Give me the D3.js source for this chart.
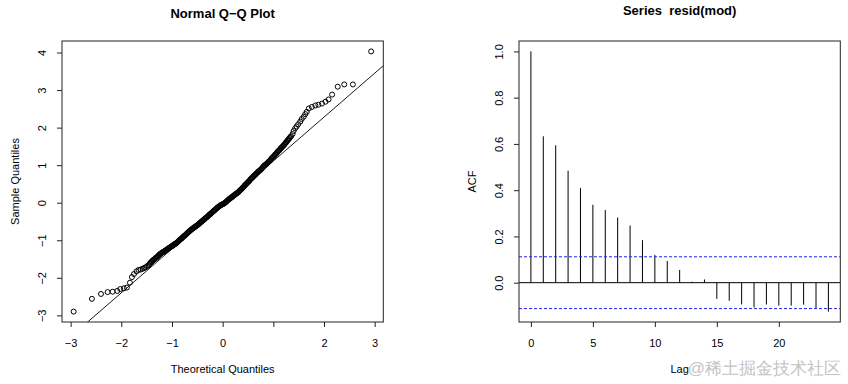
<!DOCTYPE html>
<html>
<head>
<meta charset="utf-8" />
<title>Residual diagnostics</title>
<script src="https://d3js.org/d3.v7.min.js" charset="utf-8"></script>
<style>
  body { margin: 0; background: #fff; }
  text { font-family: "Liberation Sans", Arial, sans-serif; }
</style>
</head>
<body>
<script>
// ---- Q-Q plot data ----
// theoretical quantiles and matching sample quantiles
const theoQ = [
  -2.94, -2.58, -2.40, -2.27, -2.17, -2.08, -2.02, -1.95, -1.89, -1.83, -1.79, -1.75, -1.70, -1.66, -1.62, -1.58, -1.55, -1.52, -1.49, -1.46,
  -1.44, -1.41, -1.38, -1.35, -1.32, -1.29, -1.26, -1.23, -1.20, -1.17, -1.14, -1.11, -1.08, -1.05, -1.02, -0.99, -0.96, -0.93, -0.90, -0.87,
  -0.84, -0.81, -0.78, -0.75, -0.72, -0.69, -0.66, -0.63, -0.60, -0.57, -0.54, -0.51, -0.48, -0.45, -0.42, -0.39, -0.36, -0.33, -0.30, -0.27,
  -0.24, -0.21, -0.18, -0.15, -0.12, -0.09, -0.06, -0.03, 0.00, 0.03, 0.06, 0.09, 0.12, 0.15, 0.18, 0.21, 0.24, 0.27, 0.30, 0.33,
  0.36, 0.39, 0.42, 0.45, 0.48, 0.51, 0.54, 0.57, 0.60, 0.63, 0.66, 0.69, 0.72, 0.75, 0.78, 0.81, 0.84, 0.87, 0.90, 0.93,
  0.96, 0.99, 1.02, 1.05, 1.08, 1.11, 1.14, 1.17, 1.20, 1.23, 1.26, 1.29, 1.32, 1.35, 1.38, 1.40, 1.43, 1.46, 1.49, 1.53,
  1.56, 1.60, 1.63, 1.66, 1.70, 1.76, 1.83, 1.89, 1.96, 2.03, 2.09, 2.16, 2.27, 2.40, 2.57, 2.93,
  // the dense middle of the band
  -1.425, -1.395, -1.365, -1.335, -1.305, -1.275, -1.245, -1.215, -1.185, -1.155, -1.125, -1.095, -1.065, -1.035, -1.005,
  -0.975, -0.945, -0.915, -0.885, -0.855, -0.825, -0.795, -0.765, -0.735, -0.705, -0.675, -0.645, -0.615, -0.585, -0.555,
  -0.525, -0.495, -0.465, -0.435, -0.405, -0.375, -0.345, -0.315, -0.285, -0.255, -0.225, -0.195, -0.165, -0.135, -0.105,
  -0.075, -0.045, -0.015, 0.015, 0.045, 0.075, 0.105, 0.135, 0.165, 0.195, 0.225, 0.255, 0.285, 0.315, 0.345,
  0.375, 0.405, 0.435, 0.465, 0.495, 0.525, 0.555, 0.585, 0.615, 0.645, 0.675, 0.705, 0.735, 0.765, 0.795,
  0.825, 0.855, 0.885, 0.915, 0.945, 0.975, 1.005, 1.035, 1.065, 1.095, 1.125, 1.155, 1.185, 1.215, 1.245,
  1.275, 1.305, 1.335
];
const sampleQ = [
  -2.90, -2.56, -2.43, -2.38, -2.37, -2.35, -2.30, -2.28, -2.26, -2.13, -1.98, -1.90, -1.83, -1.79, -1.78, -1.76, -1.74, -1.72, -1.69, -1.66,
  -1.63, -1.58, -1.54, -1.51, -1.47, -1.44, -1.40, -1.36, -1.33, -1.31, -1.28, -1.26, -1.23, -1.20, -1.17, -1.15, -1.12, -1.09, -1.06, -1.02,
  -0.98, -0.95, -0.91, -0.88, -0.84, -0.80, -0.76, -0.73, -0.70, -0.67, -0.64, -0.61, -0.58, -0.54, -0.51, -0.47, -0.44, -0.40, -0.37, -0.33,
  -0.30, -0.26, -0.22, -0.19, -0.15, -0.12, -0.09, -0.06, -0.04, -0.02, 0.01, 0.05, 0.09, 0.12, 0.15, 0.18, 0.21, 0.24, 0.27, 0.31,
  0.35, 0.39, 0.43, 0.48, 0.52, 0.56, 0.61, 0.65, 0.69, 0.73, 0.77, 0.81, 0.85, 0.88, 0.92, 0.97, 1.01, 1.04, 1.08, 1.12,
  1.17, 1.21, 1.25, 1.30, 1.35, 1.39, 1.44, 1.48, 1.52, 1.57, 1.62, 1.67, 1.72, 1.77, 1.83, 1.91, 1.98, 2.03, 2.09, 2.16,
  2.23, 2.29, 2.36, 2.42, 2.51, 2.55, 2.59, 2.61, 2.64, 2.69, 2.75, 2.88, 3.09, 3.15, 3.15, 4.03,
  -1.60, -1.56, -1.52, -1.49, -1.46, -1.42, -1.38, -1.35, -1.32, -1.30, -1.27, -1.24, -1.21, -1.19, -1.16,
  -1.13, -1.10, -1.08, -1.04, -1.00, -0.97, -0.93, -0.89, -0.86, -0.82, -0.78, -0.75, -0.71, -0.68, -0.65,
  -0.62, -0.59, -0.56, -0.52, -0.49, -0.46, -0.42, -0.39, -0.35, -0.31, -0.28, -0.24, -0.21, -0.17, -0.13,
  -0.10, -0.07, -0.05, -0.03, 0.00, 0.03, 0.07, 0.10, 0.13, 0.16, 0.20, 0.23, 0.26, 0.29, 0.33,
  0.37, 0.41, 0.46, 0.50, 0.54, 0.58, 0.63, 0.67, 0.71, 0.75, 0.79, 0.83, 0.86, 0.90, 0.95,
  0.99, 1.02, 1.06, 1.10, 1.14, 1.19, 1.23, 1.28, 1.32, 1.37, 1.41, 1.46, 1.50, 1.55, 1.60,
  1.65, 1.70, 1.75
];
// qqline
const qqIntercept = -0.06;
const qqSlope = 1.17;
const qqXTicks = [-3, -2, -1, 0, 1, 2, 3];
const qqXLabels = ["\u22123", "\u22122", "\u22121", "0", "", "2", "3"];
const qqYTicks = [-3, -2, -1, 0, 1, 2, 3, 4];

// ---- ACF data ----
const lags = [0, 1, 2, 3, 4, 5, 6, 7, 8, 9, 10, 11, 12, 13, 14, 15, 16, 17, 18, 19, 20, 21, 22, 23, 24];
const acfValues = [1.0, 0.633, 0.594, 0.484, 0.409, 0.337, 0.314, 0.282, 0.247, 0.184, 0.120, 0.094, 0.055, 0.004, 0.014,
  -0.070, -0.078, -0.094, -0.107, -0.094, -0.099, -0.099, -0.095, -0.111, -0.125];
const ciBound = 0.112;
const acfXTicks = [0, 5, 10, 15, 20];
const acfYTicks = [0, 0.2, 0.4, 0.6, 0.8, 1.0];

const width = 848, height = 384;
const boxTop = 41, boxBottom = 322;

const svg = d3.select("body").append("svg")
  .attr("width", width)
  .attr("height", height);

const fmtMinus = v => (v < 0 ? "\u2212" + Math.abs(v) : String(v));

function drawFrame(x0, x1) {
  svg.append("rect")
    .attr("x", x0).attr("y", boxTop)
    .attr("width", x1 - x0).attr("height", boxBottom - boxTop)
    .attr("fill", "none").attr("stroke", "#222").attr("stroke-width", 1);
}

function styleAxis(g) {
  g.select(".domain").remove();
  g.selectAll(".tick line").attr("stroke", "#222");
  g.selectAll(".tick text").attr("fill", "#000").attr("font-size", 11);
}

function bottomAxis(scale, ticks, labels) {
  return g => {
    g.call(d3.axisBottom(scale).tickValues(ticks).tickSize(5)
      .tickFormat((d, i) => labels[i]));
    styleAxis(g);
    g.selectAll(".tick text").attr("y", 17).attr("dy", "0.71em");
  };
}

function leftAxis(scale, ticks, fmt) {
  return g => {
    g.call(d3.axisLeft(scale).tickValues(ticks).tickSize(5).tickFormat(fmt));
    styleAxis(g);
    g.selectAll(".tick text")
      .attr("transform", "rotate(-90)")
      .attr("x", 0).attr("y", -16).attr("dy", 0)
      .attr("text-anchor", "middle");
  };
}

// ================= Normal Q-Q plot =================
const qx0 = 62, qx1 = 383.3;
const qqX = d3.scaleLinear().domain([-3.17, 3.17]).range([qx0, qx1]);
const qqY = d3.scaleLinear().domain([-3.177, 4.307]).range([boxBottom, boxTop]);

svg.append("clipPath").attr("id", "qqclip")
  .append("rect").attr("x", qx0).attr("y", boxTop)
  .attr("width", qx1 - qx0).attr("height", boxBottom - boxTop);

svg.append("g").selectAll("circle")
  .data(theoQ.map((t, i) => [t, sampleQ[i]]))
  .join("circle")
  .attr("cx", d => qqX(d[0]))
  .attr("cy", d => qqY(d[1]))
  .attr("r", 2.5)
  .attr("fill", "none")
  .attr("stroke", "#000")
  .attr("stroke-width", 1);

const lineX = qqX.domain();
svg.append("path")
  .attr("clip-path", "url(#qqclip)")
  .attr("d", d3.line().x(d => qqX(d)).y(d => qqY(qqIntercept + qqSlope * d))(lineX))
  .attr("stroke", "#000").attr("stroke-width", 0.9).attr("fill", "none");

drawFrame(qx0, qx1);

svg.append("g").attr("transform", `translate(0,${boxBottom})`)
  .call(bottomAxis(qqX, qqXTicks, qqXLabels));
svg.append("g").attr("transform", `translate(${qx0},0)`)
  .call(leftAxis(qqY, qqYTicks, fmtMinus));

svg.append("text")
  .attr("x", (qx0 + qx1) / 2).attr("y", 18)
  .attr("text-anchor", "middle")
  .attr("font-size", 13).attr("font-weight", "bold")
  .text("Normal Q\u2212Q Plot");

svg.append("text")
  .attr("x", (qx0 + qx1) / 2).attr("y", 373)
  .attr("text-anchor", "middle").attr("font-size", 11)
  .text("Theoretical Quantiles");

svg.append("text")
  .attr("transform", `translate(19,${(boxTop + boxBottom) / 2}) rotate(-90)`)
  .attr("text-anchor", "middle").attr("font-size", 11)
  .text("Sample Quantiles");

// ================= ACF plot =================
const ax0 = 519, ax1 = 840.3;
const acfX = d3.scaleLinear().domain([-0.96, 24.96]).range([ax0, ax1]);
const acfY = d3.scaleLinear().domain([-0.17, 1.045]).range([boxBottom, boxTop]);

svg.append("g").selectAll("line")
  .data(lags)
  .join("line")
  .attr("x1", d => acfX(d)).attr("x2", d => acfX(d))
  .attr("y1", acfY(0))
  .attr("y2", (d, i) => acfY(acfValues[i]))
  .attr("stroke", "#000").attr("stroke-width", 1);

svg.append("line")
  .attr("x1", ax0).attr("x2", ax1)
  .attr("y1", acfY(0)).attr("y2", acfY(0))
  .attr("stroke", "#000").attr("stroke-width", 1);

[ciBound, -ciBound].forEach(c => {
  svg.append("line")
    .attr("x1", ax0).attr("x2", ax1)
    .attr("y1", acfY(c)).attr("y2", acfY(c))
    .attr("stroke", "#2222ee").attr("stroke-width", 1)
    .attr("stroke-dasharray", "3,2");
});

drawFrame(ax0, ax1);

svg.append("g").attr("transform", `translate(0,${boxBottom})`)
  .call(bottomAxis(acfX, acfXTicks, acfXTicks.map(String)));
svg.append("g").attr("transform", `translate(${ax0},0)`)
  .call(leftAxis(acfY, acfYTicks, d3.format(".1f")));

svg.append("text")
  .attr("x", (ax0 + ax1) / 2).attr("y", 14.5)
  .attr("text-anchor", "middle")
  .attr("font-size", 13).attr("font-weight", "bold")
  .attr("xml:space", "preserve")
  .style("white-space", "pre")
  .text("Series  resid(mod)");

svg.append("text")
  .attr("x", (ax0 + ax1) / 2).attr("y", 373)
  .attr("text-anchor", "middle").attr("font-size", 11)
  .text("Lag");

svg.append("text")
  .attr("transform", `translate(${ax0 - 43},${(boxTop + boxBottom) / 2}) rotate(-90)`)
  .attr("text-anchor", "middle").attr("font-size", 11)
  .text("ACF");

// watermark
svg.append("text")
  .attr("x", 841).attr("y", 374)
  .attr("text-anchor", "end")
  .attr("font-family", "'Noto Sans CJK SC', sans-serif")
  .attr("font-size", 17)
  .attr("fill", "#c4c4c4")
  .text("@稀土掘金技术社区");
</script>
</body>
</html>
